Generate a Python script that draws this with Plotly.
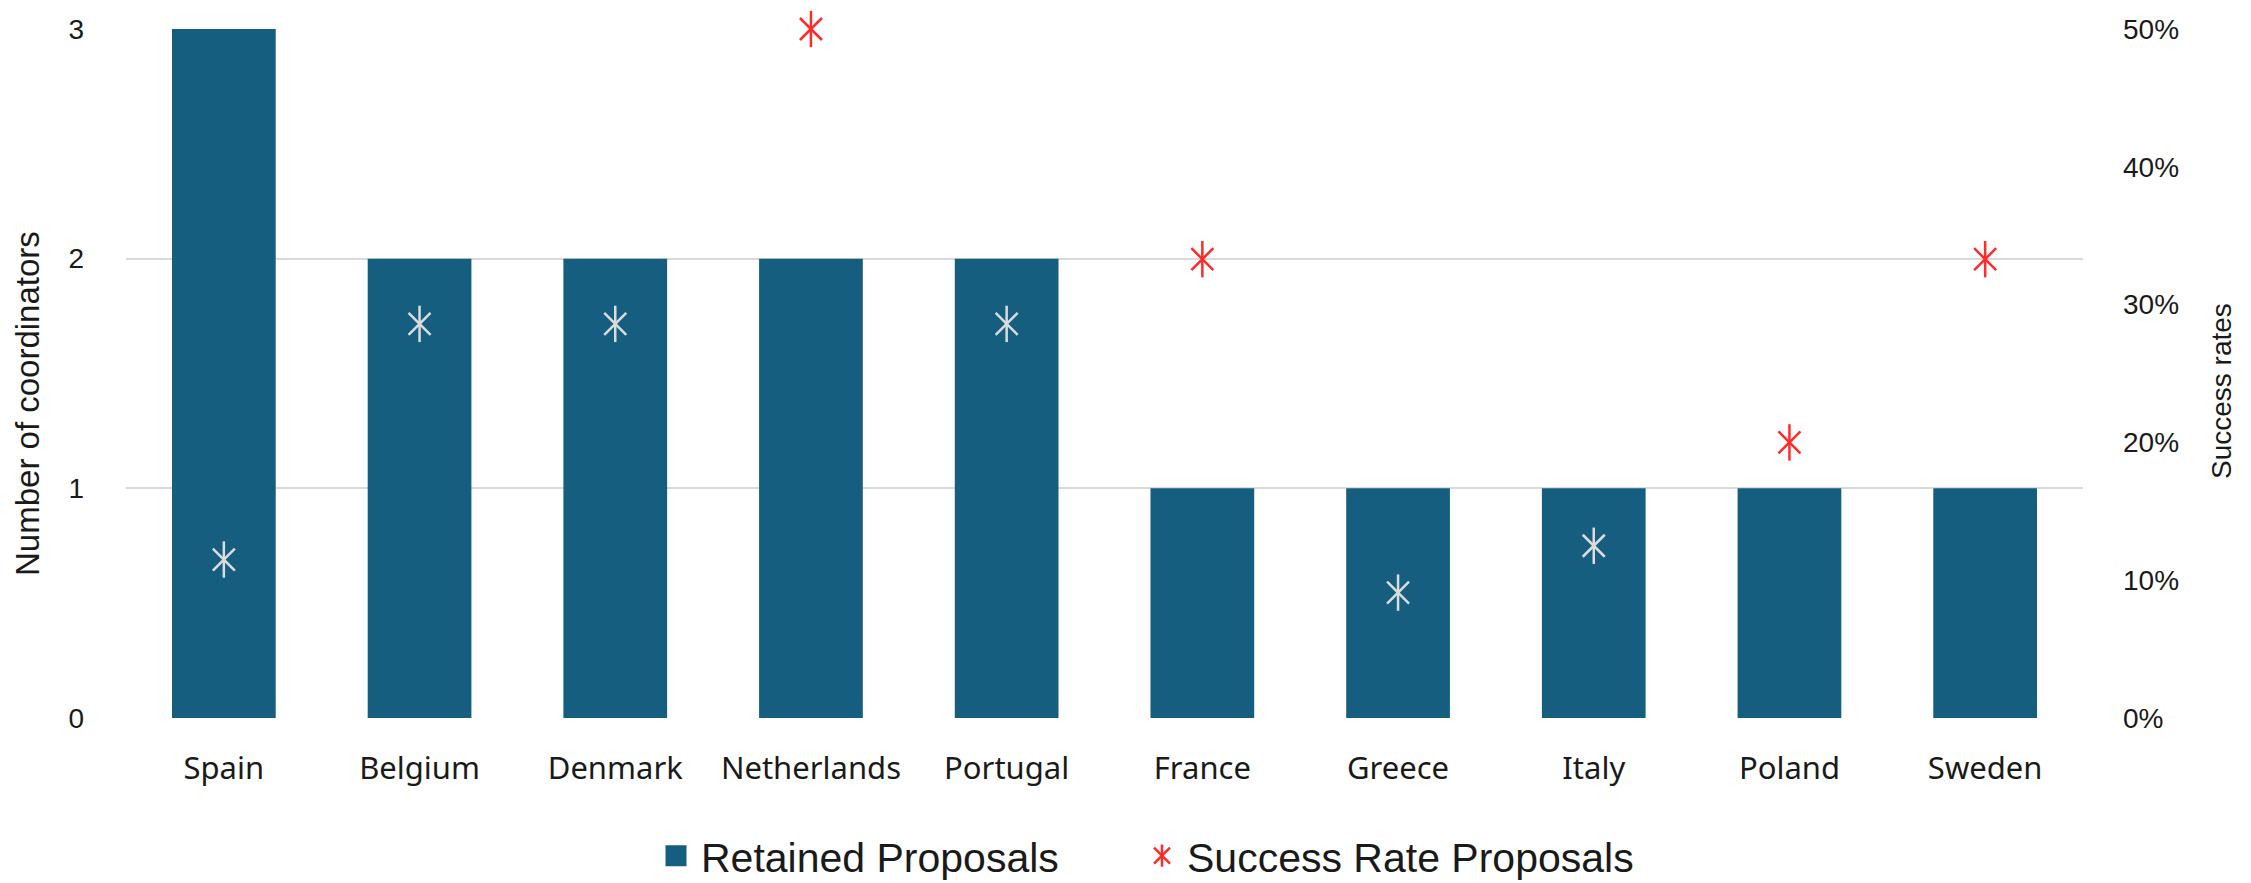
import plotly.graph_objects as go

countries = ["Spain", "Belgium", "Denmark", "Netherlands", "Portugal",
             "France", "Greece", "Italy", "Poland", "Sweden"]
retained = [3, 2, 2, 2, 2, 1, 1, 1, 1, 1]
success_rate = [0.115, 0.286, 0.286, 0.50, 0.286, 0.333, 0.091, 0.125, 0.20, 0.333]
left_ticks = [0, 1, 2, 3]
right_ticks = [0, 0.1, 0.2, 0.3, 0.4, 0.5]

BAR = "#165E80"
RED = "#FF2B2B"
LIGHT = "#DCDCDC"
TXT = "#1a1a1a"

# marker is light when drawn over a bar, red otherwise
mcolors = [LIGHT if r / 0.5 * 3 < b else RED for r, b in zip(success_rate, retained)]

fig = go.Figure()
fig.add_trace(go.Bar(x=countries, y=retained, name="Retained Proposals", showlegend=False,
                     marker=dict(color=BAR, line=dict(width=0)), width=0.53))
fig.add_trace(go.Scatter(x=countries, y=success_rate, yaxis="y2", mode="markers",
                         name="Success Rate Proposals", showlegend=False, cliponaxis=False,
                         marker=dict(symbol="x-thin-open", size=22, color=mcolors,
                                     line=dict(width=2.5, color=mcolors))))
fig.add_trace(go.Scatter(x=countries, y=success_rate, yaxis="y2", mode="markers",
                         showlegend=False, hoverinfo="skip", cliponaxis=False,
                         marker=dict(symbol="line-ns-open", size=26, color=mcolors,
                                     line=dict(width=2.5, color=mcolors))))
# legend entries (each in its own legend box so they can be placed exactly)
fig.add_trace(go.Scatter(x=[None], y=[None], mode="markers", name="Retained Proposals",
                         legend="legend",
                         marker=dict(symbol="square", size=32, color=BAR,
                                     line=dict(width=5, color=BAR))))
fig.add_trace(go.Scatter(x=[None], y=[None], mode="markers", name="Success Rate Proposals",
                         yaxis="y2", legend="legend2",
                         marker=dict(symbol="x-thin-open", size=24, color=RED,
                                     line=dict(width=2.5, color=RED))))
fig.add_trace(go.Scatter(x=[None], y=[None], mode="markers", name=" ",
                         yaxis="y2", legend="legend3", hoverinfo="skip",
                         marker=dict(symbol="line-ns-open", size=28, color=RED,
                                     line=dict(width=2.5, color=RED))))

W, H = 2243, 875          # page body has an 8px margin
L, T = 118, 21
PLOT_R, PLOT_B = 2075, 710
R, B = W - PLOT_R, H - PLOT_B
PW, PH = PLOT_R - L, PLOT_B - T

LEG_Y = (PLOT_B - 848) / PH
LEG_FONT = dict(family="Liberation Sans", size=41, color=TXT)


def leg(px_left):
    return dict(orientation="h", x=(px_left - L) / PW, xanchor="left", y=LEG_Y,
                yanchor="middle", font=LEG_FONT, itemsizing="trace", itemwidth=40,
                bgcolor="rgba(0,0,0,0)")


fig.update_layout(
    width=W, height=H,
    paper_bgcolor="white", plot_bgcolor="white",
    margin=dict(l=L, r=R, t=T, b=B, autoexpand=False),
    xaxis=dict(range=[-0.5, len(countries) - 0.5],
               tickfont=dict(family="Noto Sans", size=31, color=TXT), automargin=False,
               showline=False, ticks="", showgrid=False, ticklabelstandoff=29),
    yaxis=dict(range=[0, 3], tickvals=left_ticks, showgrid=True, gridcolor="#D9D9D9",
               gridwidth=2, zeroline=False, automargin=False,
               tickfont=dict(family="Liberation Sans", size=28, color=TXT),
               ticklabelstandoff=41),
    yaxis2=dict(range=[0, 0.5], tickvals=right_ticks, tickformat=".0%", overlaying="y",
                side="right", showgrid=False, zeroline=False, automargin=False,
                tickfont=dict(family="Liberation Sans", size=28, color=TXT),
                ticklabelstandoff=39),
    legend=leg(643),
    legend2=leg(1129),
    legend3=leg(1129),
    annotations=[
        dict(text="Number of coordinators", xref="paper", yref="paper",
             x=(20 - L) / PW, y=(PLOT_B - 396) / PH, textangle=-90, showarrow=False,
             xanchor="center", yanchor="middle",
             font=dict(family="Liberation Sans", size=33, color=TXT)),
        dict(text="Success rates", xref="paper", yref="paper",
             x=(2214 - L) / PW, y=(PLOT_B - 383) / PH, textangle=-90, showarrow=False,
             xanchor="center", yanchor="middle",
             font=dict(family="Liberation Sans", size=28, color=TXT)),
    ],
)

fig.write_html("out.html")
